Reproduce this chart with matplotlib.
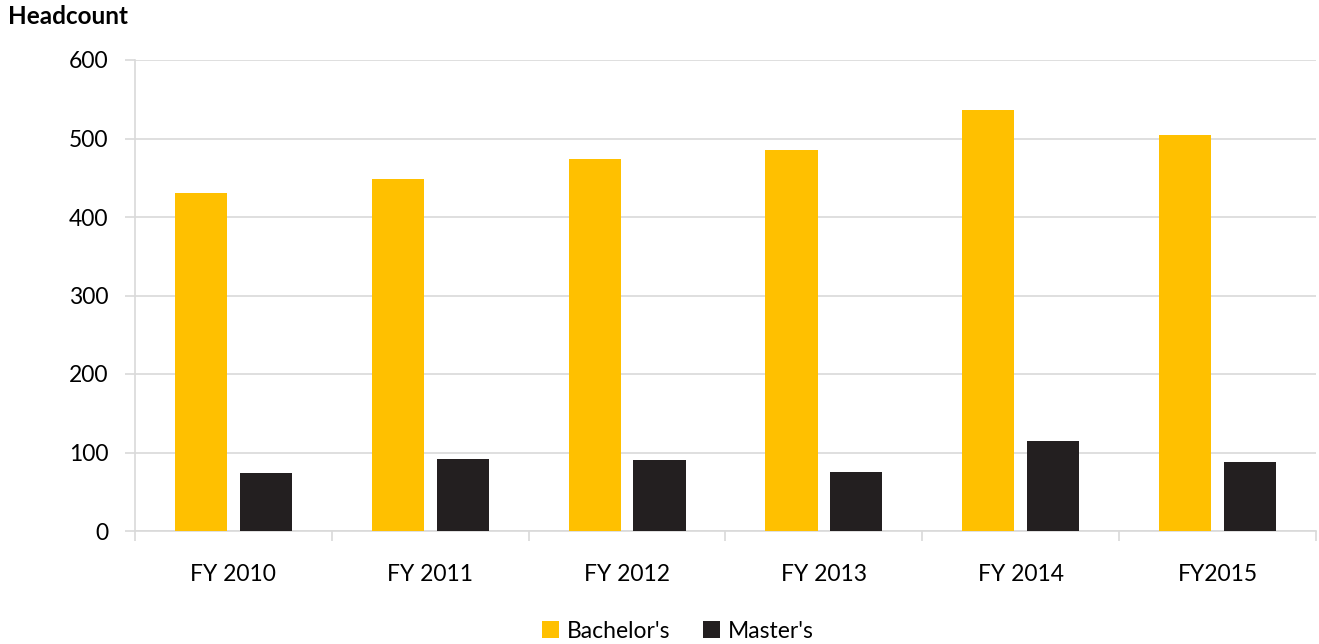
import matplotlib
matplotlib.use("Agg")
import matplotlib.pyplot as plt
import numpy as np

categories = ["FY 2010", "FY 2011", "FY 2012", "FY 2013", "FY 2014", "FY2015"]
bachelors = [430, 449, 474, 485, 536, 504]
masters = [74, 92, 90, 75, 115, 88]
yticks = [0, 100, 200, 300, 400, 500, 600]

plt.rcParams['font.family'] = ['Lato', 'DejaVu Sans']

fig = plt.figure(figsize=(13.19, 6.44), dpi=100)
ax = fig.add_axes([135/1319, 1 - 531/644, (1316-135)/1319, (531-60)/644])

x = np.arange(len(categories))
w = 0.265
off = 0.165
ax.bar(x - off, bachelors, w, color="#FFC000", label="Bachelor's", zorder=3)
ax.bar(x + off, masters, w, color="#231F20", label="Master's", zorder=3)

ax.set_xlim(-0.5, len(categories) - 0.5)
ax.set_ylim(0, 600)
ax.set_yticks(yticks)
ax.set_yticklabels([str(v) for v in yticks], fontsize=16.5)
ax.set_xticks(x)
ax.set_xticklabels(categories, fontsize=16.5)
ax.tick_params(axis='x', length=0, pad=24)
ax.set_xticks(np.arange(-0.5, len(categories) + 0.5, 1), minor=True)
ax.tick_params(axis='x', which='minor', length=7, color="#D9D9D9", width=1.2)
ax.tick_params(axis='y', length=7, color="#D9D9D9", width=1.2, pad=12)

ax.grid(axis='y', color="#D9D9D9", linewidth=1.2, zorder=0)
for s in ['top', 'right']:
    ax.spines[s].set_visible(False)
for s in ['left', 'bottom']:
    ax.spines[s].set_color("#D9D9D9")
    ax.spines[s].set_linewidth(1.2)

fig.text(8/1319, 1 - 17/644, "Headcount", fontsize=17.5, fontweight='bold', va='center', ha='left')

leg = fig.legend(loc='center', bbox_to_anchor=(678/1319, 1 - 631/644), ncol=2, frameon=False,
                 fontsize=16.5, handlelength=0.75, handleheight=0.75, handletextpad=0.35,
                 columnspacing=1.4)

fig.savefig("out.png", dpi=100)
